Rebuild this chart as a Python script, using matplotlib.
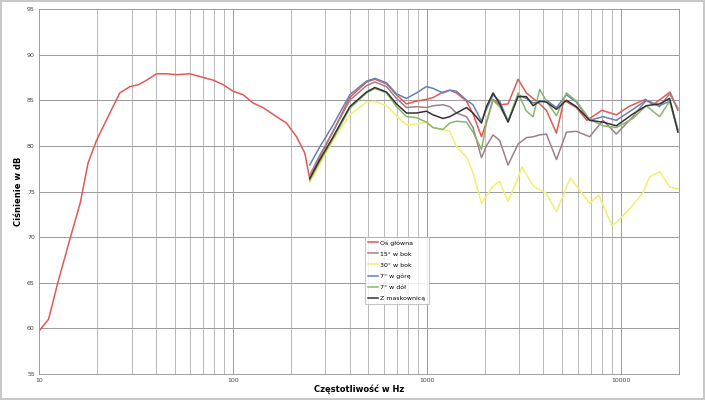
import numpy as np
import matplotlib.pyplot as plt
from matplotlib.ticker import FixedLocator, LogLocator, NullFormatter

# red curve covers the whole range, the rest start at the crossover dip
red_f = [10, 11.2, 12.5, 14.4, 16.3, 17.9, 19.8, 23.2, 26.1, 29.5, 32.5, 35.9, 40.5, 45.5,
         51.3, 60, 70.3, 79.2, 89.2, 100, 113, 127, 143, 168, 189, 213, 235, 249,
         281, 329, 401, 489, 540, 620, 698, 786, 885, 996, 1078, 1213, 1314, 1422, 1603,
         1733, 1916, 2031, 2198, 2377, 2626, 2958, 3265, 3535, 3823, 4140, 4666, 5100,
         5912, 6700, 8000, 9503, 11000, 13400, 14700, 18000, 19740]
red_db = [59.7, 61.0, 65.0, 69.7, 73.7, 78.1, 80.6, 83.6, 85.8, 86.5, 86.7, 87.2, 87.9, 87.9,
          87.8, 87.9, 87.5, 87.2, 86.7, 86.0, 85.6, 84.7, 84.2, 83.2, 82.5, 81.0, 79.2, 76.4,
          78.8, 81.6, 85.3, 87.0, 87.3, 86.8, 85.6, 84.6, 84.9, 85.1, 85.3, 85.9, 86.1, 85.8, 84.9,
          83.5, 81.0, 82.6, 85.1, 84.5, 84.6, 87.3, 85.8, 85.2, 84.6, 83.9, 81.4, 85.0,
          84.2, 82.8, 83.9, 83.4, 84.3, 85.1, 84.5, 85.9, 83.9]

hi_f = [249, 281, 329, 401, 489, 540, 620, 698, 786, 885, 996, 1078, 1213, 1314, 1422, 1603,
        1733, 1916, 2031, 2198, 2377, 2626, 2958, 3265, 3535, 3823, 4140, 4666, 5253, 5912,
        6925, 8110, 9503, 11570, 13550, 15870, 17900, 19740]

bok15_db = [76.8, 79.0, 81.6, 85.0, 86.6, 87.0, 86.5, 85.2, 84.2, 84.3, 84.2, 84.4, 84.5, 84.3,
            83.6, 83.2, 82.0, 78.7, 80.0, 81.2, 80.6, 77.9, 80.2, 80.9, 81.0, 81.2, 81.3, 78.5,
            81.5, 81.6, 81.0, 82.8, 81.3, 83.2, 85.0, 84.3, 85.7, 84.1]
gora_db = [77.9, 79.9, 82.3, 85.6, 87.1, 87.4, 86.9, 85.7, 85.2, 85.8, 86.5, 86.3, 85.8, 86.1,
           86.0, 85.0, 84.5, 82.7, 84.0, 85.6, 84.9, 82.7, 85.6, 85.2, 84.7, 84.8, 85.0, 84.2,
           85.6, 84.8, 82.8, 83.2, 82.8, 84.0, 85.0, 84.4, 84.9, 81.8]
dol_db = [76.2, 78.3, 80.8, 84.1, 85.8, 86.3, 85.8, 84.3, 83.2, 83.1, 82.6, 82.0, 81.8, 82.5,
          82.7, 82.6, 81.5, 79.6, 82.5, 85.0, 84.3, 82.7, 85.8, 83.8, 83.2, 86.2, 84.9, 83.3,
          85.8, 84.9, 82.9, 82.2, 82.0, 83.0, 84.4, 83.2, 84.9, 81.6]
mask_db = [76.4, 78.5, 81.0, 84.3, 85.9, 86.4, 85.9, 84.6, 83.6, 83.6, 83.8, 83.4, 83.0, 83.2,
           83.6, 84.2, 83.6, 82.5, 84.3, 85.8, 84.6, 82.6, 85.4, 85.4, 84.4, 84.9, 84.8, 84.0,
           85.0, 84.3, 82.8, 82.6, 82.2, 83.5, 84.4, 84.6, 85.2, 81.5]

bok30_f = [249, 281, 329, 401, 489, 540, 620, 698, 786, 885, 996, 1078, 1213, 1314, 1422, 1603,
           1733, 1916, 2198, 2377, 2626, 2958, 3100, 3535, 4140, 4666, 5500, 6925, 7700, 9000,
           9503, 11000, 13000, 14100, 15900, 17900, 19740]
bok30_db = [76.0, 78.0, 80.6, 83.4, 84.8, 84.9, 84.4, 83.3, 82.3, 82.4, 82.6, 82.0, 81.8, 81.6,
            79.9, 78.8, 77.0, 73.7, 75.6, 76.1, 73.9, 76.5, 77.7, 75.6, 74.8, 72.8, 76.5, 73.7,
            74.6, 71.3, 71.6, 73.0, 74.8, 76.6, 77.2, 75.5, 75.3]

labels = ['Oś główna', '15° w bok', '30° w bok', '7° w górę', '7° w dół', 'Z maskownicą']
colors = ['#e05a55', '#a08088', '#f0f070', '#6a7fb8', '#86b86a', '#333333']

fig = plt.figure(figsize=(7.05, 4.0), dpi=100)
fig.patch.set_edgecolor('#c8c8c8')
fig.patch.set_linewidth(1.5)
ax = fig.add_axes([39 / 705, 1 - 374 / 400, 640 / 705, 365 / 400])

series = [(red_f, red_db), (hi_f, bok15_db), (bok30_f, bok30_db),
          (hi_f, gora_db), (hi_f, dol_db), (hi_f, mask_db)]
for (f, db), lab, c in zip(series, labels, colors):
    ax.plot(f, db, color=c, lw=1.1, label=lab)

ax.set_xscale('log')
ax.set_xlim(10, 20000)
ax.set_ylim(55, 95)
ax.yaxis.set_major_locator(FixedLocator(np.arange(55, 96, 5)))
ax.xaxis.set_major_locator(FixedLocator([10, 100, 1000, 10000]))
ax.set_xticklabels(['10', '100', '1000', '10000'])
ax.xaxis.set_minor_locator(LogLocator(base=10, subs=np.arange(2, 10)))
ax.xaxis.set_minor_formatter(NullFormatter())
ax.grid(True, which='major', color='#9a9a9a', lw=0.7)
ax.grid(True, which='minor', axis='x', color='#b0b0b0', lw=0.6)
ax.tick_params(which='both', length=0, labelsize=4.5, colors='#444444', pad=3)
for s in ax.spines.values():
    s.set_color('#a0a0a0')
    s.set_linewidth(0.7)

ax.set_xlabel('Częstotliwość w Hz', fontsize=6, fontweight='bold', labelpad=1)
ax.set_ylabel('Ciśnienie w dB', fontsize=6, fontweight='bold', labelpad=3)

leg = ax.legend(loc='upper left', bbox_to_anchor=(0.505, 0.384), fontsize=4.5,
                frameon=True, fancybox=False, handlelength=1.6, handletextpad=0.3,
                borderpad=0.5, labelspacing=0.9)
leg.get_frame().set_edgecolor('#aaaaaa')
leg.get_frame().set_linewidth(0.6)

fig.savefig('out.png', dpi=100)
